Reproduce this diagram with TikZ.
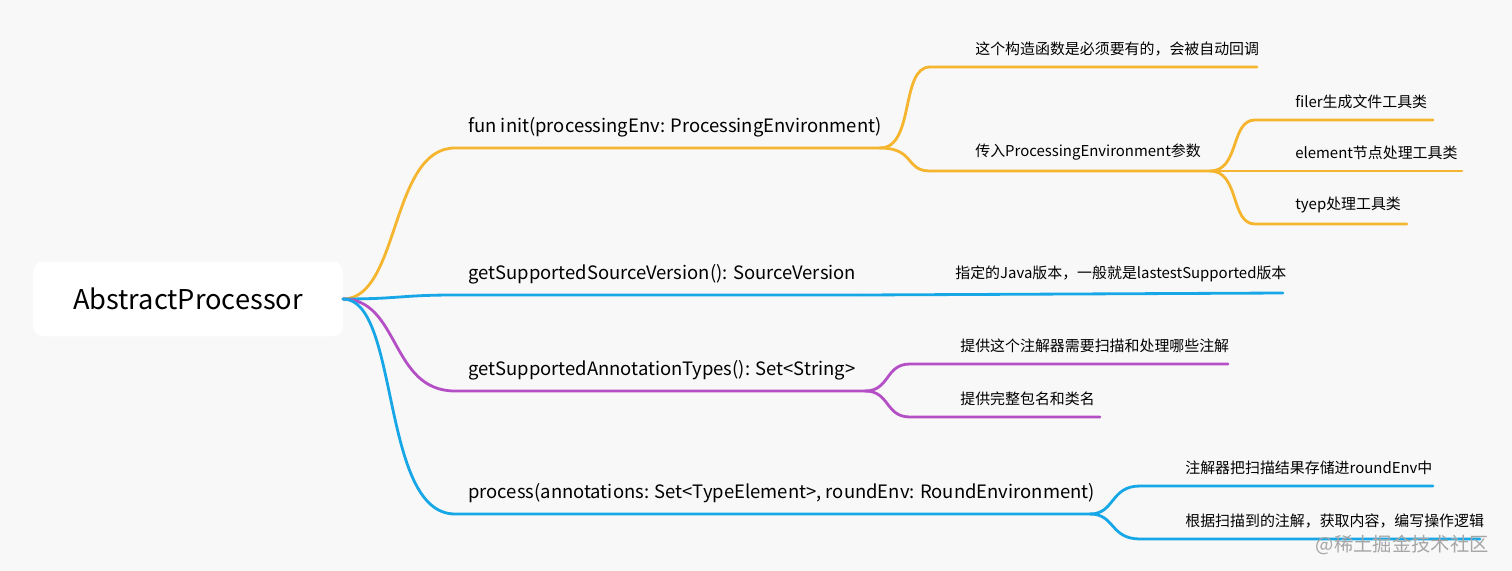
\documentclass[tikz,border=0pt]{standalone}
\usepackage{fontspec}
\setmainfont{Noto Sans CJK SC}
\definecolor{bgc}{HTML}{F8F8F8}
\definecolor{orangeb}{HTML}{F5B52E}
\definecolor{blueb}{HTML}{17A7E6}
\definecolor{purpleb}{HTML}{B44FC6}
\tikzset{
  edge/.style={line width=1.6pt, line cap=round},
  lbl/.style={anchor=south west, inner xsep=0pt, inner ysep=6pt, font=\fontsize{10.5}{13}\selectfont},
  sub/.style={anchor=south west, inner xsep=0pt, inner ysep=6pt, font=\fontsize{8.5}{11}\selectfont},
}
\begin{document}
\begin{tikzpicture}[x=0.02cm,y=-0.02cm]
  % Hintergrund
  \fill[bgc] (0,0) rectangle (1512,571);
  \useasboundingbox (0,0) rectangle (1512,571);
  % Wurzel
  \node[fill=white, rounded corners=6pt, minimum width=6.2cm, minimum height=1.5cm,
        font=\fontsize{15.5}{19}\selectfont] (root) at (188,299) {AbstractProcessor};
  \coordinate (r) at (343,299);
  % Ebene 1
  \coordinate (a1) at (455,148); \coordinate (a2) at (880,148);
  \coordinate (b1) at (455,295); \coordinate (b2) at (862,295);
  \coordinate (c1) at (455,391); \coordinate (c2) at (865,391);
  \coordinate (d1) at (455,514); \coordinate (d2) at (1090,514);
  \draw[edge,orangeb] (r) .. controls (400,299) and (390,148) .. (a1) -- (a2);
  \draw[edge,blueb] (r) .. controls (400,299) and (400,295) .. (b1) -- (b2);
  \draw[edge,purpleb] (r) .. controls (400,299) and (390,391) .. (c1) -- (c2);
  \draw[edge,blueb] (r) .. controls (400,299) and (380,514) .. (d1) -- (d2);
  \node[lbl] at (468,148) {fun init(processingEnv: ProcessingEnvironment)};
  \node[lbl] at (468,295) {getSupportedSourceVersion(): SourceVersion};
  \node[lbl] at (468,391) {getSupportedAnnotationTypes(): Set<String>};
  \node[lbl] at (468,514) {process(annotations: Set<TypeElement>, roundEnv: RoundEnvironment)};
  % Ebene 2
  \coordinate (a11) at (930,67);  \coordinate (a12) at (1257,67);
  \coordinate (a21) at (930,171); \coordinate (a22) at (1210,171);
  \draw[edge,orangeb] (a2) .. controls (915,148) and (900,67) .. (a11) -- (a12);
  \draw[edge,orangeb] (a2) .. controls (915,148) and (905,171) .. (a21) -- (a22);
  \node[sub] at (975,67) {这个构造函数是必须要有的，会被自动回调};
  \node[sub] at (975,171) {传入ProcessingEnvironment参数};
  \coordinate (b11) at (1283,293);
  \draw[edge,blueb] (b2) -- (b11);
  \node[sub] at (955,293) {指定的Java版本，一般就是lastestSupported版本};
  \coordinate (c11) at (910,364); \coordinate (c12) at (1228,364);
  \coordinate (c21) at (910,417); \coordinate (c22) at (1100,417);
  \draw[edge,purpleb] (c2) .. controls (890,391) and (885,364) .. (c11) -- (c12);
  \draw[edge,purpleb] (c2) .. controls (890,391) and (885,417) .. (c21) -- (c22);
  \node[sub] at (960,364) {提供这个注解器需要扫描和处理哪些注解};
  \node[sub] at (960,417) {提供完整包名和类名};
  \coordinate (d11) at (1140,486); \coordinate (d12) at (1433,486);
  \coordinate (d21) at (1140,539); \coordinate (d22) at (1480,539);
  \draw[edge,blueb] (d2) .. controls (1115,514) and (1110,486) .. (d11) -- (d12);
  \draw[edge,blueb] (d2) .. controls (1115,514) and (1110,539) .. (d21) -- (d22);
  \node[sub] at (1185,486) {注解器把扫描结果存储进roundEnv中};
  \node[sub] at (1185,539) {根据扫描到的注解，获取内容，编写操作逻辑};
  % Ebene 3
  \coordinate (e11) at (1255,120); \coordinate (e12) at (1433,120);
  \coordinate (e21) at (1255,171); \coordinate (e22) at (1462,171);
  \coordinate (e31) at (1255,224); \coordinate (e32) at (1407,224);
  \draw[edge,orangeb] (a22) .. controls (1240,171) and (1230,120) .. (e11) -- (e12);
  \draw[edge,orangeb] (a22) -- (e22);
  \draw[edge,orangeb] (a22) .. controls (1240,171) and (1230,224) .. (e31) -- (e32);
  \node[sub] at (1295,120) {filer生成文件工具类};
  \node[sub] at (1295,171) {element节点处理工具类};
  \node[sub] at (1295,224) {tyep处理工具类};
  % Wasserzeichen
  \node[anchor=east, text=gray!70, font=\fontsize{11}{13}\selectfont] (wm) at (1495,545) {@稀土掘金技术社区};
\end{tikzpicture}
\end{document}
